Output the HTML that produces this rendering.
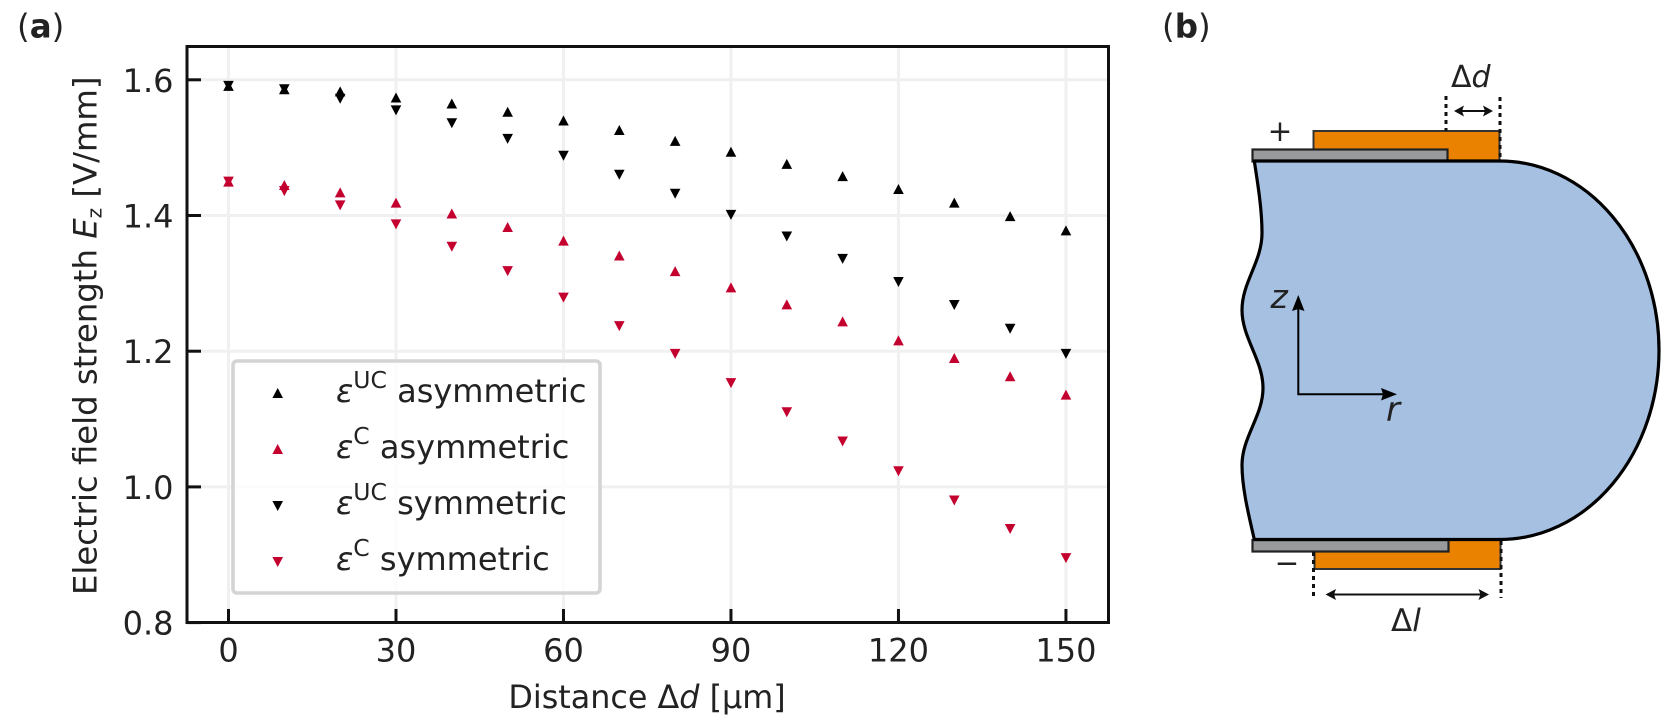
<!DOCTYPE html>
<html lang="en">
<head>
<meta charset="utf-8">
<title>Electric field strength chart</title>
<style>
html,body{margin:0;padding:0;background:#fff;width:1672px;height:727px;overflow:hidden}
svg{display:block;font-family:"DejaVu Sans","Liberation Sans",sans-serif;fill:#222}
text{white-space:pre}
</style>
</head>
<body>
<svg id="figure" width="1672" height="727" viewBox="0 0 1672 727" xmlns="http://www.w3.org/2000/svg">
  <text x="17" y="37.5" font-size="32.5">(<tspan font-weight="bold">a</tspan>)</text>
  <text x="1162" y="37.5" font-size="32.5">(<tspan font-weight="bold">b</tspan>)</text>

  <g id="chart">
    <g id="grid"></g>
    <g id="marks"></g>
    <g id="legend">
      <rect x="233" y="361" width="367" height="232" rx="4" fill="#fff" fill-opacity="0.8" stroke="#d4d4d4" stroke-width="3.6"/>
      <text x="336" y="402" font-size="32"><tspan font-style="italic">ε</tspan><tspan dy="-14" font-size="23.5">UC</tspan><tspan dy="14"> asymmetric</tspan></text>
      <text x="336" y="458" font-size="32"><tspan font-style="italic">ε</tspan><tspan dy="-14" font-size="23.5">C</tspan><tspan dy="14"> asymmetric</tspan></text>
      <text x="336" y="514" font-size="32"><tspan font-style="italic">ε</tspan><tspan dy="-14" font-size="23.5">UC</tspan><tspan dy="14"> symmetric</tspan></text>
      <text x="336" y="570" font-size="32"><tspan font-style="italic">ε</tspan><tspan dy="-14" font-size="23.5">C</tspan><tspan dy="14"> symmetric</tspan></text>
    </g>
    <g id="ticks"></g>
    <rect x="187" y="46.5" width="921.5" height="576" fill="none" stroke="#111" stroke-width="3"/>
    <text transform="translate(96.5,595) rotate(-90)" font-size="32.3">Electric field strength <tspan font-style="italic">E</tspan><tspan dy="5" font-size="20">z</tspan><tspan dy="-5"> [V/mm]</tspan></text>
    <text x="647" y="708" font-size="31.8" text-anchor="middle">Distance Δ<tspan font-style="italic">d</tspan> [µm]</text>
  </g>

  <g id="diagram">
    <rect x="1313.5" y="131" width="186" height="30" fill="#ea8200" stroke="#333" stroke-width="2"/>
    <rect x="1314.5" y="539.5" width="186" height="29.5" fill="#ea8200" stroke="#333" stroke-width="2"/>
    <rect x="1252.5" y="149.5" width="195" height="12" fill="#999a9c" stroke="#222" stroke-width="2.2"/>
    <rect x="1252.5" y="540" width="196" height="11.5" fill="#999a9c" stroke="#222" stroke-width="2.2"/>
    <path d="M1254.3,161 C1258,185 1262,210 1262,233 C1262,262 1242,282 1242,310 C1242,338 1263,360 1263,388 C1263,416 1242,437 1242,465 C1242,490 1250,520 1254.3,539.5 L1500,539.5 A159,189.25 0 0 0 1500,161 Z" fill="#a6c0e2" stroke="#000" stroke-width="3.2" stroke-linejoin="round"/>
    <g stroke="#111" stroke-width="3" stroke-dasharray="4 4" fill="none">
      <line x1="1446" y1="96" x2="1446" y2="131"/>
      <line x1="1500" y1="97" x2="1500" y2="161"/>
      <line x1="1313.5" y1="552" x2="1313.5" y2="600"/>
      <line x1="1501" y1="541" x2="1501" y2="598"/>
    </g>
    <g fill="#111" stroke="#111">
      <line x1="1456" y1="111" x2="1491" y2="111" stroke-width="2"/>
      <polygon points="1454,111 1464,105.5 1462,111 1464,116.5" stroke="none"/>
      <polygon points="1493,111 1483,105.5 1485,111 1483,116.5" stroke="none"/>
    </g>
    <g fill="#111" stroke="#111">
      <line x1="1328" y1="594.5" x2="1487" y2="594.5" stroke-width="2"/>
      <polygon points="1325.5,594.5 1336,589 1334,594.5 1336,600" stroke="none"/>
      <polygon points="1489,594.5 1478.5,589 1480.5,594.5 1478.5,600" stroke="none"/>
    </g>
    <g fill="#000" stroke="#000">
      <polyline points="1298.3,300 1298.3,394.3 1390,394.3" fill="none" stroke-width="2"/>
      <polygon points="1298.3,295 1304.5,311 1298.3,309 1292,311" stroke="none"/>
      <polygon points="1397,394.3 1381,388 1383,394.3 1381,400.5" stroke="none"/>
    </g>
    <text x="1270.5" y="308" font-size="33" font-style="italic">z</text>
    <text x="1386" y="421" font-size="34" font-style="italic">r</text>
    <text x="1451" y="87" font-size="30">Δ<tspan font-style="italic">d</tspan></text>
    <text x="1391" y="631" font-size="31">Δ<tspan font-style="italic">l</tspan></text>
    <text x="1280" y="141" font-size="29.5" text-anchor="middle">+</text>
    <text x="1287" y="573" font-size="29.5" text-anchor="middle">−</text>
  </g>
</svg>
<script>
const distances = [0, 10, 20, 30, 40, 50, 60, 70, 80, 90, 100, 110, 120, 130, 140, 150];
const ucAsymmetric = [1.591, 1.586, 1.583, 1.574, 1.565, 1.553, 1.540, 1.526, 1.510, 1.494, 1.476, 1.458, 1.439, 1.419, 1.399, 1.378];
const cAsymmetric = [1.450, 1.445, 1.434, 1.419, 1.403, 1.383, 1.363, 1.341, 1.318, 1.294, 1.269, 1.244, 1.216, 1.190, 1.163, 1.136];
const ucSymmetric = [1.591, 1.586, 1.572, 1.555, 1.536, 1.513, 1.488, 1.460, 1.432, 1.401, 1.369, 1.336, 1.302, 1.268, 1.233, 1.196];
const cSymmetric = [1.450, 1.436, 1.415, 1.387, 1.354, 1.318, 1.279, 1.237, 1.196, 1.153, 1.110, 1.067, 1.023, 0.980, 0.938, 0.895];
const xTickValues = [0, 30, 60, 90, 120, 150];
const yTickValues = [0.8, 1.0, 1.2, 1.4, 1.6];
const xTickLabels = ['0', '30', '60', '90', '120', '150'];
const yTickLabels = ['0.8', '1.0', '1.2', '1.4', '1.6'];

const NS = 'http://www.w3.org/2000/svg';
const plotLeft = 187, plotRight = 1108.5, plotTop = 46.5, plotBottom = 622.5;
const xScale = v => 228.5 + v * 5.583;
const yScale = v => 622.6 - (v - 0.8) * 678.5;

function make(tag, attrs, parent) {
  const node = document.createElementNS(NS, tag);
  Object.keys(attrs).forEach(k => node.setAttribute(k, attrs[k]));
  parent.appendChild(node);
  return node;
}
function triangle(cx, cy, dir, color, parent) {
  const w = 5.3, h = 5;
  const pts = [cx, cy - dir * h, cx + w, cy + dir * h, cx - w, cy + dir * h].join(' ');
  return make('polygon', { points: pts, fill: color }, parent);
}

const gridG = document.getElementById('grid');
const ticksG = document.getElementById('ticks');
const marksG = document.getElementById('marks');
const legendG = document.getElementById('legend');

xTickValues.forEach((v, i) => {
  const gl = make('line', { x1: xScale(v), x2: xScale(v), y1: plotTop, y2: plotBottom, stroke: '#f0f0f0', 'stroke-width': 3 }, gridG);
  
  
  const tk = make('line', { x1: xScale(v), x2: xScale(v), y1: plotBottom, y2: plotBottom - 13.5, stroke: '#111', 'stroke-width': 3 }, ticksG);
  
  
  const lb = make('text', { x: xScale(v), y: 661.5, 'font-size': 32, 'text-anchor': 'middle' }, ticksG);
  
  
  lb.textContent = xTickLabels[i];
});
yTickValues.forEach((v, i) => {
  const gl = make('line', { x1: plotLeft, x2: plotRight, y1: yScale(v), y2: yScale(v), stroke: '#f0f0f0', 'stroke-width': 3 }, gridG);
  
  
  const tk = make('line', { x1: plotLeft, x2: plotLeft + 14, y1: yScale(v), y2: yScale(v), stroke: '#111', 'stroke-width': 3 }, ticksG);
  
  
  const lb = make('text', { x: 173.5, y: yScale(v) + 12, 'font-size': 32, 'text-anchor': 'end' }, ticksG);
  
  
  lb.textContent = yTickLabels[i];
});

const black = '#000000', crimson = '#c4002f';
const seriesList = [
  { values: ucAsymmetric, dir: 1, color: black, legendY: 393 },
  { values: cAsymmetric, dir: 1, color: crimson, legendY: 449 },
  { values: ucSymmetric, dir: -1, color: black, legendY: 506 },
  { values: cSymmetric, dir: -1, color: crimson, legendY: 562 }
];
seriesList.forEach(s => {
  s.values.forEach((v, i) => {
    const p = triangle(xScale(distances[i]), yScale(v), s.dir, s.color, marksG);
    
    
  });
  const key = triangle(277.7, s.legendY, s.dir, s.color, legendG);
  
  
});
</script>
</body>
</html>
